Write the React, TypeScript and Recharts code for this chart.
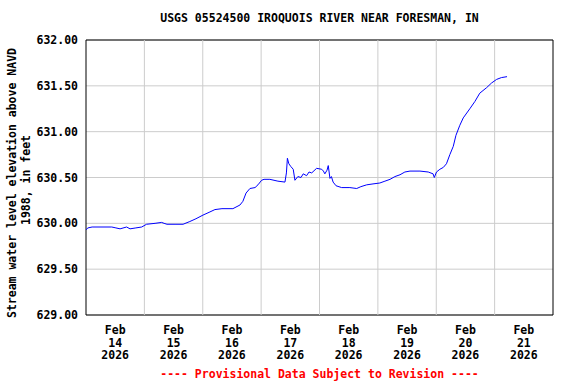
import { LineChart, Line, XAxis, YAxis, CartesianGrid, ReferenceLine, ReferenceArea } from "recharts";

// hours since Feb 14 2026 00:00
const hours = [
  0, 0.8, 2.5, 10.6, 12.3, 14.0, 16.7, 18.1, 20.5, 22.9, 24.9, 28.4, 31.1, 32.1, 33.3, 36.6, 39.9, 42.7, 45.2, 48.1,
  50.6, 53.0, 55.9, 60.4, 63.3, 64.5, 65.8, 67.4, 69.5, 70.7, 72.2, 73.2, 75.6, 78.9, 81.8, 82.4, 82.8, 83.4, 84.2, 85.2,
  85.9, 87.1, 88.4, 89.3, 90.7, 91.7, 92.8, 94.8, 96.9, 97.6, 98.2, 99.1, 99.6, 100.3, 100.9, 101.6, 102.8, 105.1, 108.5, 111.3,
  113.0, 115.4, 118.0, 120.8, 122.9, 125.0, 127.0, 129.1, 131.1, 133.2, 137.3, 140.7, 142.7, 143.2, 144.1, 145.5, 146.9, 148.2, 149.6, 151.0,
  152.1, 153.7, 155.1, 157.8, 159.9, 161.9, 164.7, 166.7, 168.8, 170.8, 173.1,
];

const elevation = [
  629.93, 629.95, 629.96, 629.96, 629.95, 629.94, 629.96, 629.94, 629.95, 629.96, 629.99, 630.0, 630.01, 630.0, 629.99, 629.99, 629.99, 630.02, 630.05, 630.09,
  630.12, 630.15, 630.16, 630.16, 630.2, 630.24, 630.33, 630.38, 630.39, 630.42, 630.47, 630.48, 630.48, 630.46, 630.45, 630.55, 630.71, 630.65, 630.62, 630.59,
  630.47, 630.51, 630.5, 630.54, 630.52, 630.56, 630.55, 630.6, 630.59, 630.57, 630.54, 630.58, 630.63, 630.49, 630.51, 630.45, 630.41, 630.39, 630.39, 630.38,
  630.4, 630.42, 630.43, 630.44, 630.46, 630.48, 630.51, 630.53, 630.56, 630.57, 630.57, 630.56, 630.54, 630.5, 630.56, 630.59, 630.61, 630.65, 630.75, 630.84,
  630.96, 631.07, 631.15, 631.25, 631.33, 631.42, 631.48, 631.53, 631.57, 631.59, 631.6,
];

const dayLabels = ["14", "15", "16", "17", "18", "19", "20", "21"];
const labelTicks = [12, 36, 60, 84, 108, 132, 156, 180];
const midnights = [24, 48, 72, 96, 120, 144, 168];
const yTicks = [629, 629.5, 630, 630.5, 631, 631.5, 632];

const data = hours.map((h, i) => ({ h, v: elevation[i] }));

const font = "'DejaVu Sans Mono', monospace";

function DayTick({ x, y, payload }: any) {
  const i = labelTicks.indexOf(payload.value);
  return (
    <text x={x} y={y} textAnchor='middle' fontFamily={font} fontWeight='bold' fontSize={11.5} fill='#000'>
      <tspan x={x} dy={11}>Feb</tspan>
      <tspan x={x} dy={12.6}>{dayLabels[i]}</tspan>
      <tspan x={x} dy={12.6}>2026</tspan>
    </text>
  );
}

export default function App() {
  return (
    <div style={{ position: "absolute", left: 0, top: 0, width: 576, height: 384, background: "#fff", fontFamily: font }}>
      <div style={{ position: "absolute", left: 86, width: 467, top: 11, textAlign: "center", fontSize: 11.5, fontWeight: "bold" }}>
        USGS 05524500 IROQUOIS RIVER NEAR FORESMAN, IN
      </div>
      <LineChart width={576} height={384} data={data} margin={{ top: 40, right: 23, bottom: 0, left: 0 }}>
        <CartesianGrid vertical={false} stroke='#cccccc' />
        {midnights.map((m) => (
          <ReferenceLine key={m} x={m} stroke='#cccccc' />
        ))}
        <XAxis
          dataKey='h'
          type='number'
          domain={[0, 192]}
          ticks={labelTicks}
          tick={<DayTick />}
          tickLine={false}
          axisLine={false}
          height={69}
          interval={0}
        />
        <YAxis
          type='number'
          domain={[629, 632]}
          ticks={yTicks}
          tickFormatter={(v: number) => v.toFixed(2)}
          tick={{ fontFamily: font, fontWeight: "bold", fontSize: 11.5, fill: "#000" }}
          tickLine={false}
          axisLine={false}
          width={86}
          interval={0}
        />
        <ReferenceArea x1={0} x2={192} y1={629} y2={632} fill='none' stroke='#000' strokeWidth={1} />
        <Line type='linear' dataKey='v' stroke='#0000ff' strokeWidth={1} dot={false} isAnimationActive={false} />
        <text x={0} y={0} transform='translate(16,183) rotate(-90)' textAnchor='middle' fontFamily={font} fontWeight='bold' fontSize={11.5} fill='#000'>
          Stream water level elevation above NAVD
        </text>
        <text x={0} y={0} transform='translate(30,180) rotate(-90)' textAnchor='middle' fontFamily={font} fontWeight='bold' fontSize={11.5} fill='#000'>
          1988, in feet
        </text>
      </LineChart>
      <div style={{ position: "absolute", left: 86, width: 467, top: 367, textAlign: "center", fontSize: 11.5, fontWeight: "bold", color: "#ff0000" }}>
        ---- Provisional Data Subject to Revision ----
      </div>
    </div>
  );
}
